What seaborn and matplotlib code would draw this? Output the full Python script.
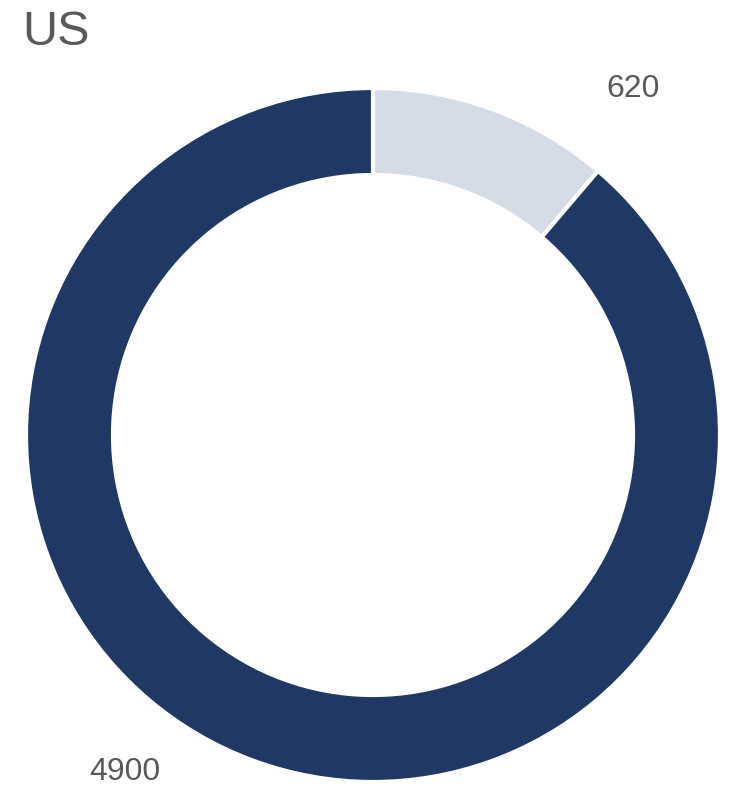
import matplotlib
matplotlib.use("Agg")
import matplotlib.pyplot as plt
import seaborn as sns
import numpy as np

sns.set_theme(style="white")
plt.rcParams["font.family"] = ["Liberation Sans", "DejaVu Sans"]

title = "US"
categories = ["Other", "Main"]
values = [620, 4900]
colors = ["#D6DCE5", "#203864"]
text_color = "#595959"

W, H = 731, 788
fig = plt.figure(figsize=(W / 100, H / 100), dpi=100)
ax = fig.add_axes([0, 0, 1, 1])

cx, cy, r = 373, H - 435, 347
ring = 87
wedges, _ = ax.pie(
    values,
    colors=colors,
    startangle=90,
    counterclock=False,
    center=(cx, cy),
    radius=r,
    frame=True,
    wedgeprops=dict(width=ring, edgecolor="white", linewidth=3),
)
ax.set_xlim(0, W)
ax.set_ylim(0, H)
ax.set_aspect("equal")
ax.axis("off")

# value labels placed outside the ring
label_pos = [(633, H - 89), (125, H - 772)]
for v, (x, y) in zip(values, label_pos):
    ax.text(x, y, f"{v}", ha="center", va="center", fontsize=23, color=text_color)

ax.text(22, H - 32, title, ha="left", va="center", fontsize=35, color=text_color)

fig.savefig("out.png", dpi=100, facecolor="white")
